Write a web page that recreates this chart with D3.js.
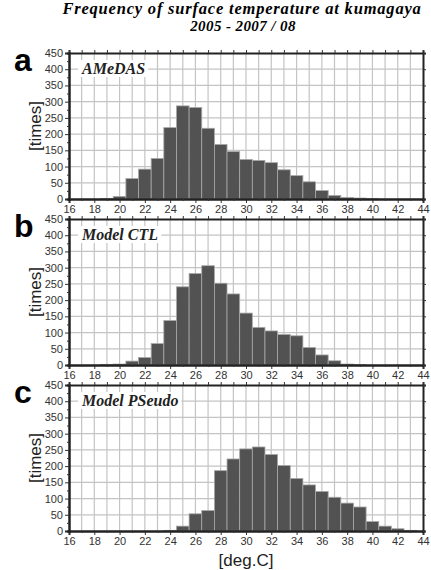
<!DOCTYPE html>
<html>
<head>
<meta charset="utf-8">
<script src="https://cdn.jsdelivr.net/npm/d3@7"></script>
<style>
  body { margin: 0; background: #fff; }
  text { font-family: "Liberation Sans", Arial, sans-serif; }
</style>
</head>
<body>
<script>
// bin centres (deg.C)
var temps = [19, 20, 21, 22, 23, 24, 25, 26, 27, 28, 29, 30, 31, 32, 33, 34, 35, 36, 37, 38, 39, 40, 41, 42, 43];

// counts per bin
var amedas = [1, 8, 63, 92, 125, 220, 287, 282, 218, 168, 146, 122, 119, 112, 90, 72, 53, 26, 11, 5, 3, 1, 0, 0, 0];
var ctl    = [2, 3, 12, 23, 66, 137, 241, 282, 306, 252, 219, 160, 116, 105, 94, 90, 54, 31, 13, 3, 1, 0, 0, 0, 0];
var pseudo = [0, 0, 0, 0, 0, 2, 15, 53, 63, 186, 222, 253, 259, 236, 202, 162, 142, 122, 104, 86, 74, 29, 15, 7, 2];

var panelNames = ["AMeDAS", "Model CTL", "Model PSeudo"];
var panelLetters = ["a", "b", "c"];
var xTicks = [16, 18, 20, 22, 24, 26, 28, 30, 32, 34, 36, 38, 40, 42, 44];
var yTicks = [0, 50, 100, 150, 200, 250, 300, 350, 400, 450];

var W = 431, H = 570;
var left = 69, right = 423, ph = 146;
var tops = [53, 219, 385];

var svg = d3.select("body").append("svg")
    .attr("width", W)
    .attr("height", H);

// title
svg.append("text")
    .attr("x", 242).attr("y", 13.5)
    .attr("text-anchor", "middle")
    .style("font-family", "'Liberation Serif', 'Times New Roman', serif")
    .style("font-weight", "bold").style("font-style", "italic")
    .style("font-size", "16.5px")
    .style("letter-spacing", "0.8px")
    .text("Frequency of surface temperature at kumagaya");
svg.append("text")
    .attr("x", 243).attr("y", 30.5)
    .attr("text-anchor", "middle")
    .style("font-family", "'Liberation Serif', 'Times New Roman', serif")
    .style("font-weight", "bold").style("font-style", "italic")
    .style("font-size", "15px")
    .style("letter-spacing", "0.4px")
    .text("2005 - 2007 / 08");

var x = d3.scaleLinear().domain([16, 44]).range([left, right]);

function drawPanel(i, values) {
  var top = tops[i];
  var y = d3.scaleLinear().domain([0, 450]).range([top + ph, top]);
  var g = svg.append("g");

  // grid
  g.append("g").selectAll("line")
    .data(d3.range(17, 44))
    .join("line")
      .attr("x1", d => x(d)).attr("x2", d => x(d))
      .attr("y1", top).attr("y2", top + ph)
      .attr("stroke", "#c4c4c4").attr("stroke-width", 1.2);
  g.append("g").selectAll("line")
    .data(yTicks.slice(1, -1))
    .join("line")
      .attr("x1", left).attr("x2", right)
      .attr("y1", d => y(d)).attr("y2", d => y(d))
      .attr("stroke", "#c4c4c4").attr("stroke-width", 1.2);

  // bars
  g.append("g").selectAll("rect")
    .data(temps.map((t, j) => ({t: t, v: values[j]})).filter(d => d.v > 0))
    .join("rect")
      .attr("x", d => x(d.t - 0.5))
      .attr("width", d => x(d.t + 0.5) - x(d.t - 0.5))
      .attr("y", d => y(d.v))
      .attr("height", d => y(0) - y(d.v))
      .attr("fill", "#525252")
      .attr("stroke", "#a8a8a8")
      .attr("stroke-width", 0.8);

  // panel name with white box
  var lab = g.append("text")
      .attr("x", 82).attr("y", top + 21)
      .style("font-family", "'Liberation Serif', 'Times New Roman', serif")
      .style("font-weight", "bold").style("font-style", "italic")
      .style("font-size", "16px")
      .attr("fill", "#222")
      .text(panelNames[i]);
  var bb = lab.node().getBBox();
  g.insert("rect", "text")
      .attr("x", bb.x - 3).attr("y", bb.y)
      .attr("width", bb.width + 6).attr("height", bb.height)
      .attr("fill", "#fff");

  // axes
  g.append("g")
      .attr("transform", "translate(0," + (top + ph) + ")")
      .call(d3.axisBottom(x).tickValues(xTicks).tickSize(4).tickPadding(2).tickFormat(d3.format("d")));
  g.append("g")
      .attr("transform", "translate(0," + (top + ph) + ")")
      .call(d3.axisBottom(x).tickValues(d3.range(17, 44, 2)).tickSize(2).tickFormat(""));
  g.append("g")
      .attr("transform", "translate(0," + top + ")")
      .call(d3.axisTop(x).tickValues(d3.range(16, 45)).tickSize(3).tickFormat(""));
  g.append("g")
      .attr("transform", "translate(" + left + ",0)")
      .call(d3.axisLeft(y).tickValues(yTicks).tickSize(4).tickPadding(2));
  g.append("g")
      .attr("transform", "translate(" + left + ",0)")
      .call(d3.axisLeft(y).tickValues(d3.range(25, 450, 50)).tickSize(2).tickFormat(""));
  g.append("g")
      .attr("transform", "translate(" + right + ",0)")
      .call(d3.axisRight(y).tickValues(yTicks).tickSize(3).tickFormat(""));

  g.selectAll(".domain").attr("stroke", "#222").attr("stroke-width", 2);
  g.selectAll(".tick line").attr("stroke", "#333");
  g.selectAll(".tick text")
      .style("font-size", "11px")
      .attr("fill", "#333");

  // y label
  g.append("text")
      .attr("transform", "translate(41," + (top + ph / 2) + ") rotate(-90)")
      .attr("text-anchor", "middle")
      .style("font-size", "17px")
      .attr("fill", "#222")
      .text("[times]");

  // panel letter
  g.append("text")
      .attr("x", 14).attr("y", top + 18)
      .style("font-size", "32px")
      .style("font-weight", "bold")
      .attr("fill", "#000")
      .text(panelLetters[i]);
}

drawPanel(0, amedas);
drawPanel(1, ctl);
drawPanel(2, pseudo);

svg.append("text")
    .attr("x", 246).attr("y", 566)
    .attr("text-anchor", "middle")
    .style("font-size", "17px")
    .attr("fill", "#222")
    .text("[deg.C]");
</script>
</body>
</html>
